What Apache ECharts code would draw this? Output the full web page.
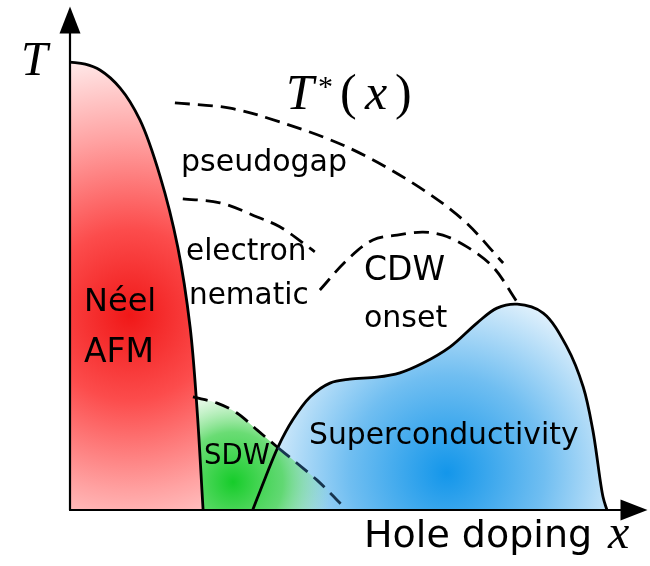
<!DOCTYPE html>
<html>
<head>
<meta charset="utf-8">
<script src="https://cdn.jsdelivr.net/npm/echarts@6.0.0/dist/echarts.min.js"></script>
<style>
  html, body { margin: 0; padding: 0; background: #ffffff; }
  #chart { width: 650px; height: 566px; }
</style>
</head>
<body>
<div id="chart"></div>
<script>
// Schematic cuprate phase diagram: [hole doping, temperature], arbitrary units 0–100.

// Néel antiferromagnet boundary
const neelBoundary = [
  [0, 91.4], [2.7, 91.0], [5.3, 89.8], [8.9, 86.1], [12.4, 79.6], [16.0, 68.0],
  [19.1, 53.7], [21.3, 37.3], [22.5, 21.0], [23.6, 0]
];

// Spin-density-wave dome: part above the superconducting dome, then the part inside it
const sdwUpper = [
  [21.8, 23.1], [26.1, 21.8], [29.6, 19.8], [33.2, 16.3], [36.9, 12.7]
];
const sdwLower = [
  [36.9, 12.7], [40.2, 9.6], [43.8, 6.1], [46.1, 3.5], [48.2, 1.0]
];

// Superconducting dome
const scDome = [
  [32.4, 0], [34.6, 6.5], [36.9, 12.9], [39.5, 18.4], [42.6, 23.1], [46.1, 25.9],
  [49.6, 26.7], [54.4, 27.1], [58.5, 28.0], [62.6, 30.0], [67.4, 33.3], [72.2, 38.2],
  [75.7, 41.2], [79.3, 42.0], [83.9, 40.2], [88.1, 33.3], [91.0, 25.1], [92.7, 16.3],
  [94.5, 2.7], [95.2, 0]
];

// Pseudogap crossover T*(x)
const pseudogapLine = [
  [18.6, 83.1], [28.4, 82.0], [37.2, 79.2], [49.1, 74.1], [60.8, 66.7], [69.7, 59.2], [76.8, 50.4]
];

// Electron-nematic onset
const nematicLine = [
  [20.0, 63.5], [26.6, 62.7], [33.2, 59.8], [37.2, 57.8], [43.4, 52.7]
];

// Charge-density-wave onset
const cdwLine = [
  [44.3, 44.9], [49.1, 51.0], [53.7, 55.1], [58.0, 56.1], [62.6, 56.7], [66.1, 56.1],
  [70.4, 53.7], [75.0, 49.6], [79.3, 42.4]
];

// Centres of the colour shading of each phase
const neelCore = [10.6, 39.8];
const sdwCore = [28.9, 5.7];
const scCore = [66.8, 7.6];

// Region and axis names
const regionLabels = ['pseudogap', 'electron', 'nematic', 'Néel', 'AFM', 'CDW', 'onset', 'SDW', 'Superconductivity'];
const axisTitleX = 'Hole doping';
const axisVarX = 'x';
const axisVarY = 'T';
const crossoverName = ['T', '*', '(', 'x', ')'];

const SANS = '"DejaVu Sans", sans-serif';
const SERIF = '"Liberation Serif", "DejaVu Serif", serif';
const DASH = [15, 8];

// Centripetal Catmull-Rom spline through pixel points, as SVG path data
function splinePath(p) {
  const n = p.length;
  const ext = [[2 * p[0][0] - p[1][0], 2 * p[0][1] - p[1][1]]].concat(p,
    [[2 * p[n - 1][0] - p[n - 2][0], 2 * p[n - 1][1] - p[n - 2][1]]]);
  const dist = function (a, b) { return Math.pow(Math.hypot(b[0] - a[0], b[1] - a[1]), 0.5) || 1e-6; };
  let d = 'M' + p[0][0] + ' ' + p[0][1];
  for (let i = 1; i < ext.length - 2; i++) {
    const p0 = ext[i - 1], p1 = ext[i], p2 = ext[i + 1], p3 = ext[i + 2];
    const d1 = dist(p0, p1), d2 = dist(p1, p2), d3 = dist(p2, p3);
    const c1 = [0, 1].map(function (k) {
      return p1[k] + d2 * ((p1[k] - p0[k]) / d1 - (p2[k] - p0[k]) / (d1 + d2) + (p2[k] - p1[k]) / d2) / 3;
    });
    const c2 = [0, 1].map(function (k) {
      return p2[k] - d2 * ((p2[k] - p1[k]) / d2 - (p3[k] - p1[k]) / (d2 + d3) + (p3[k] - p2[k]) / d3) / 3;
    });
    d += ' C' + c1[0] + ' ' + c1[1] + ' ' + c2[0] + ' ' + c2[1] + ' ' + p2[0] + ' ' + p2[1];
  }
  return d;
}

// Filled phase region: spline along the boundary, closed along T = 0
function regionSeries(points, core, radius, stops, z) {
  return {
    type: 'custom', data: points, z: z, silent: true, clip: false,
    renderItem: function (params, api) {
      if (params.dataIndex !== 0) return null;
      const px = points.map(function (d) { return api.coord(d); });
      const first = api.coord([points[0][0], 0]);
      const last = api.coord([points[points.length - 1][0], 0]);
      const c = api.coord(core);
      const d = splinePath(px) + ' L' + last[0] + ' ' + last[1] + ' L' + first[0] + ' ' + first[1] + ' Z';
      return {
        type: 'path', shape: { pathData: d },
        style: { fill: new echarts.graphic.RadialGradient(c[0], c[1], radius, stops, true), stroke: null }
      };
    }
  };
}

// Boundary curve, solid or dashed
function curveSeries(points, color, dashed) {
  return {
    type: 'custom', data: points, z: 5, silent: true, clip: false,
    renderItem: function (params, api) {
      if (params.dataIndex !== 0) return null;
      const px = points.map(function (d) { return api.coord(d); });
      return {
        type: 'path', shape: { pathData: splinePath(px) },
        style: {
          fill: null, stroke: color, lineWidth: 2.8,
          lineDash: dashed ? DASH : null, lineCap: 'butt', lineJoin: 'round'
        }
      };
    }
  };
}

const redStops = [
  { offset: 0, color: '#f01818' },
  { offset: 0.3, color: '#fc4c4c' },
  { offset: 0.62, color: '#ffa2a2' },
  { offset: 1, color: '#ffffff' }
];
const blueStops = [
  { offset: 0, color: '#1396ea' },
  { offset: 0.5, color: '#70bef1' },
  { offset: 1, color: '#eaf5fd' }
];
const greenStops = [
  { offset: 0, color: 'rgba(22,204,42,1)' },
  { offset: 0.5, color: 'rgba(80,214,92,0.85)' },
  { offset: 1, color: 'rgba(150,232,158,0)' }
];

function txt(text, x, y, size, family, italic) {
  return {
    type: 'text', x: x, y: y, silent: true, z: 20,
    style: {
      text: text, fontSize: size, fontFamily: family,
      fontStyle: italic ? 'italic' : 'normal',
      fill: '#000000', align: 'left', verticalAlign: 'middle'
    }
  };
}

const axisCommon = {
  type: 'value', min: 0, max: 100, z: 10,
  axisLine: {
    show: true, symbol: ['none', 'triangle'], symbolSize: [21, 27],
    lineStyle: { color: '#000000', width: 2.2 }
  },
  axisTick: { show: false }, axisLabel: { show: false }, splitLine: { show: false }
};

const chart = echarts.init(document.getElementById('chart'), null, { renderer: 'canvas' });
chart.setOption({
  animation: false,
  backgroundColor: '#ffffff',
  grid: { left: 70, right: 16, top: 20, bottom: 56, containLabel: false, outerBoundsMode: 'none' },
  xAxis: axisCommon,
  yAxis: axisCommon,
  series: [
    regionSeries(scDome, scCore, 195, blueStops, 1),
    regionSeries(sdwUpper.concat(sdwLower.slice(1)), sdwCore, 100, greenStops, 2),
    regionSeries(neelBoundary, neelCore, 285, redStops, 3),
    curveSeries(neelBoundary, '#000000', false),
    curveSeries(scDome, '#000000', false),
    curveSeries(sdwUpper, '#000000', true),
    curveSeries(sdwLower, '#17354f', true),
    curveSeries(pseudogapLine, '#000000', true),
    curveSeries(nematicLine, '#000000', true),
    curveSeries(cdwLine, '#000000', true)
  ],
  graphic: [
    txt(regionLabels[0], 181, 163, 30, SANS),
    txt(regionLabels[1], 186, 252, 29.5, SANS),
    txt(regionLabels[2], 189, 296, 29.5, SANS),
    txt(regionLabels[3], 84, 303, 32, SANS),
    txt(regionLabels[4], 84, 353, 33, SANS),
    txt(regionLabels[5], 364, 271, 33, SANS),
    txt(regionLabels[6], 364, 319, 30, SANS),
    txt(regionLabels[7], 204, 457, 27.5, SANS),
    txt(regionLabels[8], 309, 436, 29.8, SANS),
    txt(axisTitleX, 364, 537, 38, SANS),
    txt(axisVarX, 608, 535, 48, SERIF, true),
    txt(axisVarY, 21, 62, 48, SERIF, true),
    txt(crossoverName[0], 286, 96, 50, SERIF, true),
    txt(crossoverName[1], 318, 88, 30, SERIF),
    txt(crossoverName[2], 340, 96, 50, SERIF),
    txt(crossoverName[3], 365, 96, 50, SERIF, true),
    txt(crossoverName[4], 395, 96, 50, SERIF)
  ]
});
</script>
</body>
</html>
